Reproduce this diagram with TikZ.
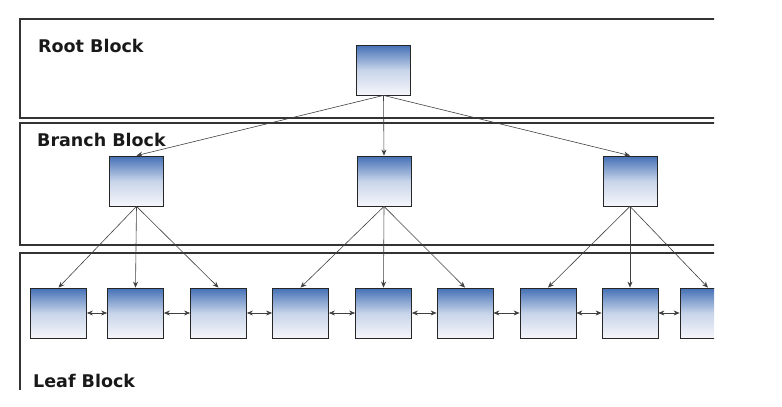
\documentclass[tikz,border=0pt]{standalone}
\usepackage{xcolor}
\usepackage{fontspec}
\setmainfont{DejaVu Sans}
\usetikzlibrary{arrows.meta}
\definecolor{blkblue}{HTML}{4470B6}
\definecolor{blkfade}{HTML}{F6F6FB}
\definecolor{frame}{HTML}{333333}

\begin{document}
\begin{tikzpicture}[x=1pt, y=-1pt,
    blk/.style={draw=black!85, line width=0.8pt, top color=blkblue, bottom color=blkfade,
                middle color=blkblue!30!white,
                minimum width=54pt, minimum height=50pt, inner sep=0pt},
    leaf/.style={blk, minimum width=56pt},
    level/.style={draw=frame, line width=1.6pt},
    edge/.style={-{Stealth[length=6pt, width=5pt]}, line width=0.6pt, black!75},
    link/.style={{Stealth[length=6pt, width=5pt]}-{Stealth[length=6pt, width=5pt]}, line width=0.6pt, black!75},
    title/.style={font=\fontsize{17.5}{20}\selectfont\bfseries, anchor=base west, inner sep=0pt, text=black!90},
]
    \useasboundingbox (0,0) rectangle (782,407);
    \begin{scope}
    \clip (0,0) rectangle (714,407);

    % Blocks
    \draw[level] (740,19) -- (20,19) -- (20,118) -- (740,118);
    \draw[level] (740,123) -- (20,123) -- (20,245) -- (740,245);
    \draw[level] (740,253) -- (20,253) -- (20,390);

    \node[title] (roottxt) at (38,52) {Root Block};
    \node[title] (branchtxt) at (37,146) {Branch Block};
    \node[title] (leaftxt) at (33,387) {Leaf Block};

    % Root
    \node[blk] (root) at (383.5,70) {};

    % Branches
    \node[blk] (b1) at (136.5,181) {};
    \node[blk] (b2) at (384,181) {};
    \node[blk] (b3) at (630,181) {};

    % Leaves
    \node[leaf] (l1) at (58.5,313) {};
    \node[leaf] (l2) at (135.5,313) {};
    \node[leaf] (l3) at (218.5,313) {};
    \node[leaf] (l4) at (300.5,313) {};
    \node[leaf] (l5) at (383.5,313) {};
    \node[leaf] (l6) at (465,313) {};
    \node[leaf] (l7) at (548,313) {};
    \node[leaf] (l8) at (630,313) {};
    \node[leaf] (l9) at (708,313) {};

    % Root -> branches
    \draw[edge] (root.south) -- (b1.north);
    \draw[edge] (root.south) -- (b2.north);
    \draw[edge] (root.south) -- (b3.north);

    % Branches -> leaves
    \draw[edge] (b1.south) -- (l1.north);
    \draw[edge] (b1.south) -- (l2.north);
    \draw[edge] (b1.south) -- (l3.north);
    \draw[edge] (b2.south) -- (l4.north);
    \draw[edge] (b2.south) -- (l5.north);
    \draw[edge] (b2.south) -- (l6.north);
    \draw[edge] (b3.south) -- (l7.north);
    \draw[edge] (b3.south) -- (l8.north);
    \draw[edge] (b3.south) -- (l9.north);

    % Leaf chain
    \draw[link] (l1.east) -- (l2.west);
    \draw[link] (l2.east) -- (l3.west);
    \draw[link] (l3.east) -- (l4.west);
    \draw[link] (l4.east) -- (l5.west);
    \draw[link] (l5.east) -- (l6.west);
    \draw[link] (l6.east) -- (l7.west);
    \draw[link] (l7.east) -- (l8.west);
    \draw[link] (l8.east) -- (l9.west);
    \end{scope}
\end{tikzpicture}
\end{document}
